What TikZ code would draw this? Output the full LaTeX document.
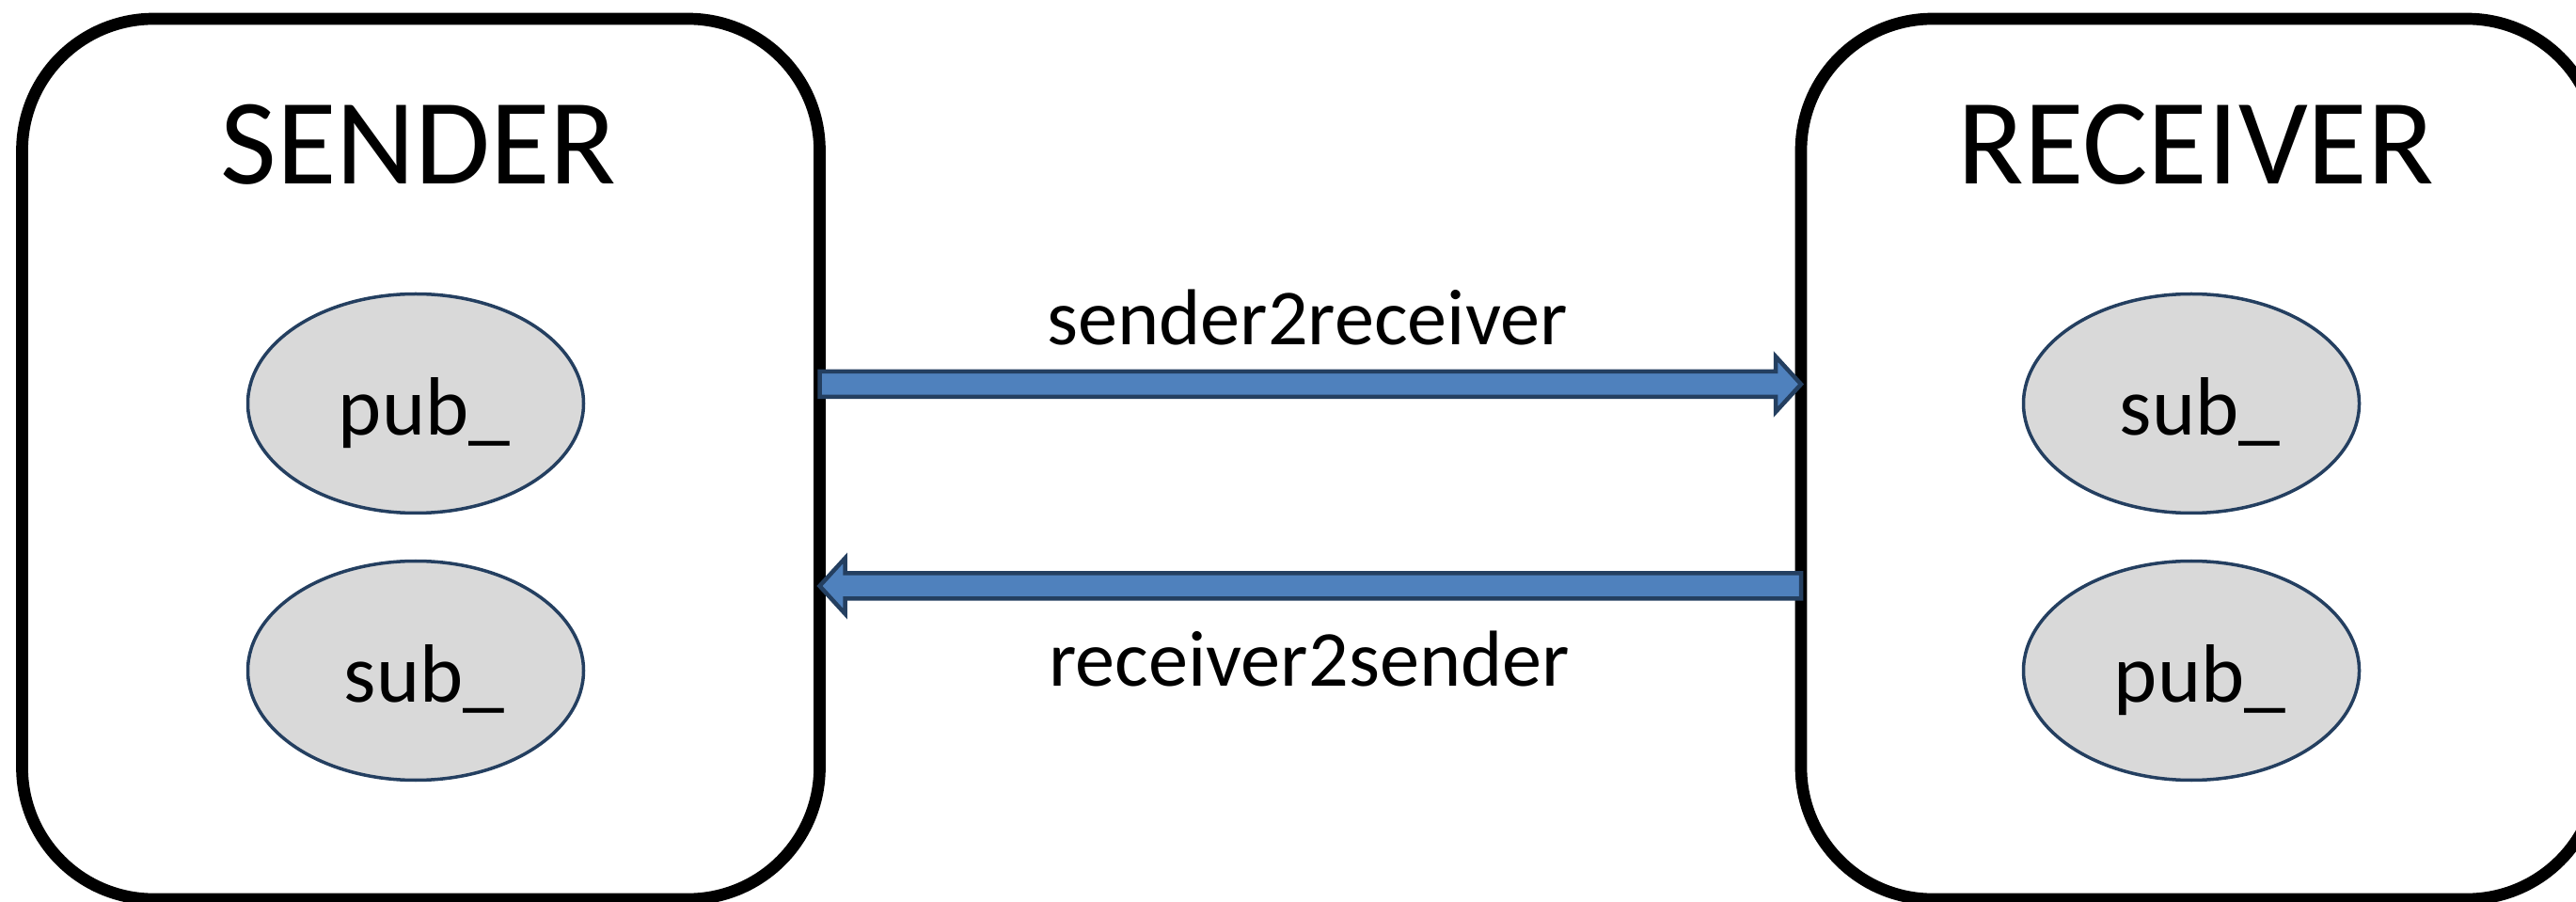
\documentclass[tikz,border=0pt]{standalone}
\usepackage{fontspec}
\setmainfont{Carlito}
\usetikzlibrary{shapes.geometric,calc}

\definecolor{arrowblue}{HTML}{4F81BD}
\definecolor{darknavy}{HTML}{243F60}
\definecolor{ovalgray}{HTML}{D9D9D9}

\tikzset{
  host/.style={draw, line width=0.127cm, rounded corners=1.4cm,
    minimum width=8.48cm, minimum height=9.36cm, inner sep=0pt, outer sep=0pt},
  hosttitle/.style={anchor=base, font=\fontsize{37}{44}\selectfont},
  endpoint/.style={ellipse, draw=darknavy, line width=0.035cm, fill=ovalgray,
    minimum width=3.57cm, minimum height=2.33cm, inner sep=0pt,
    text height=0.68cm, text depth=0pt,
    execute at begin node=\hspace*{0.18cm},
    font=\fontsize{25}{30}\selectfont},
  topic/.style={anchor=base, font=\fontsize{24}{29}\selectfont},
  % fat arrow outline from start to target (horizontal only)
  blockarrow/.style={draw=darknavy, fill=arrowblue, line width=0.045cm,
    to path={let \p1=(\tikztostart), \p2=(\tikztotarget),
      \n1={sign(\x2-\x1)} in
      (\x1,\y1+0.135cm) -- (\x2-\n1*0.27cm,\y1+0.135cm)
      -- (\x2-\n1*0.27cm,\y1+0.295cm) -- (\x2,\y1)
      -- (\x2-\n1*0.27cm,\y1-0.295cm) -- (\x2-\n1*0.27cm,\y1-0.135cm)
      -- (\x1,\y1-0.135cm) -- cycle}}
}

\begin{document}
\begin{tikzpicture}
  \useasboundingbox (0,0) rectangle (27.39,9.58);

  % the two hosts
  \node[host] (sender) at (4.475,4.70) {};
  \node[host] (receiver) at (23.39,4.70) {};
  \node[hosttitle] (sendertitle) at (4.45,7.62) {SENDER};
  \node[hosttitle] (receivertitle) at (23.35,7.62) {RECEIVER};

  % publishers and subscribers
  \node[endpoint] (senderpub) at (4.42,5.29) {pub\_};
  \node[endpoint] (sendersub) at (4.42,2.45) {sub\_};
  \node[endpoint] (receiversub) at (23.30,5.29) {sub\_};
  \node[endpoint] (receiverpub) at (23.30,2.45) {pub\_};

  % topics between them
  \coordinate (s2r) at (0,5.495);
  \coordinate (r2s) at (0,3.35);
  \draw[blockarrow] (sender.east |- s2r) to (receiver.west |- s2r);
  \draw[blockarrow] (receiver.west |- r2s) to (sender.east |- r2s);
  \node[topic] (s2rlabel) at (13.9,5.91) {sender2receiver};
  \node[topic] (r2slabel) at (13.92,2.28) {receiver2sender};
\end{tikzpicture}
\end{document}
